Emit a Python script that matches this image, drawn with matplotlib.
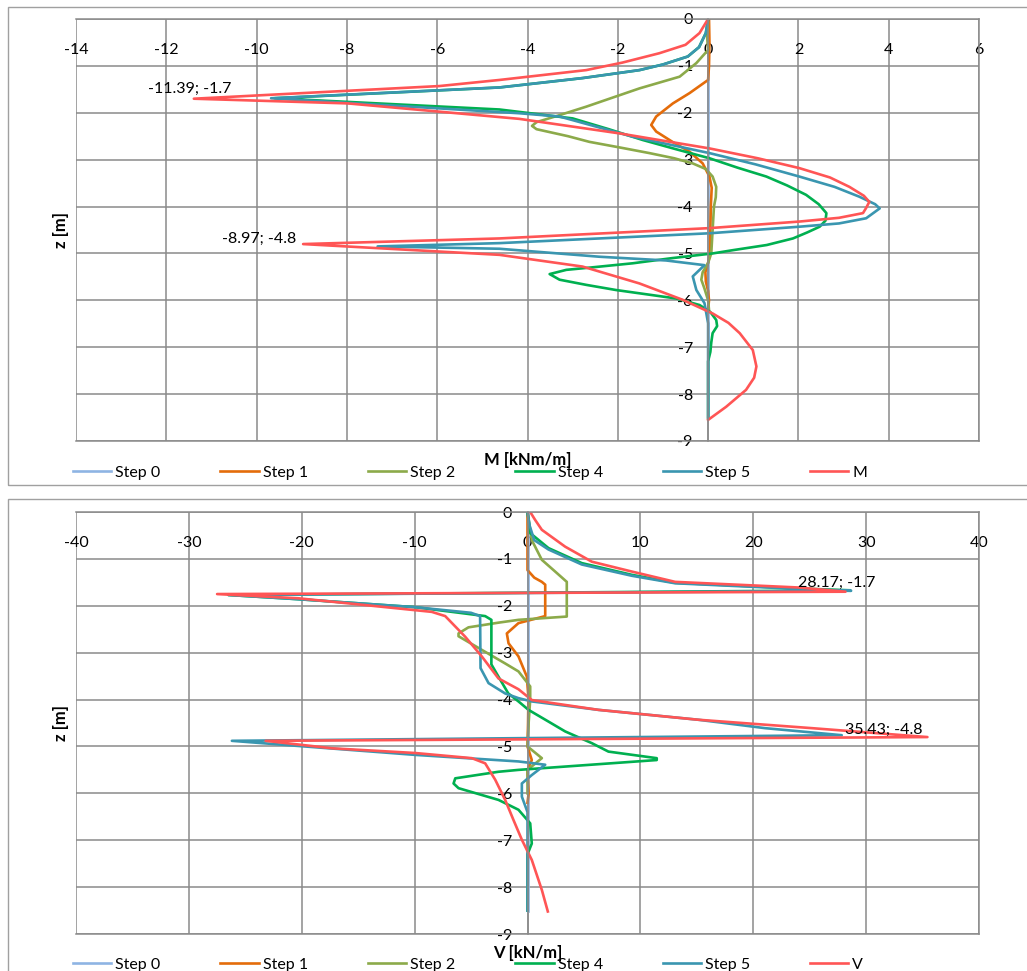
import matplotlib
matplotlib.use("Agg")
import matplotlib.pyplot as plt
from matplotlib.patches import Rectangle

plt.rcParams['font.family'] = ['Lato', 'DejaVu Sans']
plt.rcParams['axes.unicode_minus'] = False

# bending moment M [kNm/m] vs depth z [m]
m_step0_x = [0.0, 0.0]
m_step0_z = [0.0, -8.5]

m_step1_x = [0.02, 0.03, 0.02, 0.0, -0.41, -0.78, -1.15, -1.26, -1.15, -0.79, -0.41, -0.12,
             0.03, 0.08, 0.06, 0.05, 0.04, 0.0, -0.06, -0.05, 0.0, 0.02, 0.0]
m_step1_z = [0.0, -0.5, -1.0, -1.3, -1.58, -1.80, -2.08, -2.26, -2.40, -2.62, -2.83, -3.08,
             -3.36, -3.6, -4.0, -4.5, -5.0, -5.2, -5.4, -5.6, -5.8, -6.0, -6.2]

m_step2_x = [0.0, -0.02, 0.0, -0.26, -0.63, -1.52, -2.70, -3.29, -3.80, -3.90, -3.80, -3.10,
             -2.63, -1.90, -1.30, -0.75, -0.34, -0.05, 0.10, 0.18, 0.17, 0.13, 0.10, 0.07,
             0.0, -0.12, -0.15, -0.08, 0.0, 0.02]
m_step2_z = [0.0, -0.4, -0.66, -0.94, -1.23, -1.48, -1.87, -2.05, -2.20, -2.28, -2.35, -2.50,
             -2.62, -2.75, -2.86, -2.97, -3.08, -3.20, -3.36, -3.58, -3.80, -4.0, -4.5, -5.0,
             -5.2, -5.4, -5.56, -5.75, -6.0, -6.2]

m_step4_x = [0.0, -0.05, -0.2, -0.45, -1.0, -1.52, -2.78, -4.62, -9.60, -4.62, -3.0, -2.2,
             -1.45, -0.7, 0.03, 0.65, 1.29, 1.75, 2.17, 2.45, 2.62, 2.60, 2.47, 2.20, 1.88,
             1.30, 0.55, 0.10, -0.80, -1.67, -2.60, -3.14, -3.51, -3.29, -2.70, -2.04, -1.30,
             -0.71, -0.19, 0.05, 0.18, 0.20, 0.10, 0.07, 0.05, 0.0, 0.0]
m_step4_z = [0.0, -0.3, -0.6, -0.8, -0.97, -1.09, -1.26, -1.46, -1.69, -1.93, -2.12, -2.35,
             -2.58, -2.78, -2.97, -3.17, -3.36, -3.55, -3.75, -3.95, -4.14, -4.30, -4.43, -4.55,
             -4.68, -4.82, -4.93, -5.0, -5.10, -5.21, -5.30, -5.35, -5.44, -5.56, -5.67, -5.78,
             -5.88, -5.96, -6.10, -6.25, -6.42, -6.55, -6.70, -6.9, -7.1, -7.3, -8.5]

m_step5_x = [0.0, -0.05, -0.2, -0.45, -1.0, -1.52, -2.78, -4.62, -9.68, -4.18, -3.29, -1.67,
             0.03, 1.05, 2.02, 2.80, 3.35, 3.70, 3.80, 3.50, 2.90, 2.02, 0.03, -4.62, -7.32,
             -4.62, -2.41, -0.93, -0.08, -0.34, -0.26, -0.08, 0.0, 0.0]
m_step5_z = [0.0, -0.3, -0.6, -0.8, -0.97, -1.09, -1.26, -1.46, -1.69, -2.01, -2.08, -2.51,
             -2.86, -3.10, -3.36, -3.58, -3.79, -3.95, -4.04, -4.25, -4.36, -4.43, -4.57, -4.78,
             -4.85, -4.90, -5.07, -5.15, -5.25, -5.49, -5.78, -6.06, -6.49, -8.5]

m_x = [0.0, -0.19, -0.5, -1.08, -1.9, -2.70, -4.62, -5.95, -11.39, -7.98, -4.18, -1.96,
       0.03, 1.10, 2.02, 2.70, 3.13, 3.45, 3.57, 3.50, 3.43, 2.90, 2.02, 0.03, -4.62, -8.97,
       -4.62, -2.78, -1.52, -0.56, 0.10, 0.45, 0.70, 0.99, 1.07, 1.02, 0.84, 0.40, 0.0]
m_z = [0.0, -0.3, -0.55, -0.73, -0.93, -1.09, -1.30, -1.43, -1.7, -1.80, -2.13, -2.44,
       -2.76, -2.97, -3.18, -3.38, -3.58, -3.77, -3.90, -4.03, -4.14, -4.24, -4.32, -4.46,
       -4.68, -4.8, -5.03, -5.28, -5.64, -5.99, -6.28, -6.48, -6.70, -7.06, -7.41, -7.65,
       -7.91, -8.27, -8.55]

# shear force V [kN/m] vs depth z [m]
v_step0_x = [0.0, 0.0]
v_step0_z = [0.0, -8.5]

v_step1_x = [0.0, 0.0, 0.0, 0.6, 1.27, 1.57, 1.57, -0.8, -1.83, -1.68, -0.80, -0.06, 0.08,
             0.05, 0.0, 0.38, 0.0, 0.1, 0.0]
v_step1_z = [0.0, -0.5, -1.24, -1.40, -1.49, -1.55, -2.22, -2.37, -2.59, -2.80, -3.08, -3.51,
             -3.95, -4.5, -5.0, -5.29, -5.5, -6.0, -6.2]

v_step2_x = [0.0, 0.38, 1.27, 2.45, 3.48, 3.48, -0.8, -2.57, -5.23, -6.11, -6.11, -4.05,
             -1.98, -0.8, 0.24, 0.24, 0.1, 0.0, 1.27, 0.0, 0.0]
v_step2_z = [0.0, -0.6, -1.02, -1.27, -1.49, -2.23, -2.30, -2.36, -2.46, -2.59, -2.65, -2.94,
             -3.23, -3.40, -3.72, -4.0, -4.5, -5.0, -5.25, -5.5, -6.0]

v_step4_x = [0.0, 0.24, 1.86, 4.81, 9.24, 13.08, 24.0, 28.6, -26.5, -20.3, -9.95, -3.75,
             -3.2, -3.2, -2.6, -1.7, -0.8, 0.09, 1.86, 3.34, 5.70, 7.17, 11.45, 11.45, -0.8,
             -2.57, -6.40, -6.55, -6.11, -2.57, -0.8, 0.24, 0.38, 0.0, 0.0]
v_step4_z = [0.0, -0.45, -0.77, -1.09, -1.34, -1.51, -1.63, -1.67, -1.77, -1.86, -2.03, -2.22,
             -2.30, -3.25, -3.50, -3.87, -4.04, -4.22, -4.47, -4.68, -4.93, -5.11, -5.25, -5.29,
             -5.50, -5.54, -5.68, -5.79, -5.89, -6.14, -6.35, -6.64, -7.07, -7.3, -8.5]

v_step5_x = [0.0, 0.2, 0.6, 1.86, 4.81, 9.24, 13.08, 24.0, 28.67, -26.5, -20.3, -9.95, -5.0,
             -4.2, -4.16, -3.45, -1.98, -0.8, 0.38, 6.29, 15.1, 21.05, 27.84, -26.19, -20.3,
             -9.95, -0.8, 1.57, 0.38, -0.5, -0.5, 0.0, 0.0]
v_step5_z = [0.0, -0.3, -0.6, -0.80, -1.12, -1.36, -1.52, -1.64, -1.68, -1.77, -1.86, -2.03,
             -2.15, -2.22, -3.33, -3.65, -3.87, -3.97, -4.04, -4.22, -4.43, -4.61, -4.76, -4.88,
             -4.99, -5.18, -5.32, -5.39, -5.61, -5.79, -6.07, -6.4, -8.5]

v_x = [0.24, 0.68, 1.27, 3.34, 5.70, 9.24, 13.08, 24.0, 28.17, -27.5, -20.3, -8.48, -7.29,
       -5.52, -4.05, -2.57, -0.8, 0.38, 6.29, 15.1, 25.2, 35.43, -23.2, -17.3, -9.95, -4.93,
       -3.75, -2.86, -1.98, -1.24, -0.5, 0.38, 1.27, 1.8]
v_z = [0.0, -0.17, -0.38, -0.74, -1.06, -1.27, -1.49, -1.61, -1.7, -1.75, -1.84, -2.13, -2.22,
       -2.66, -3.08, -3.55, -3.78, -4.01, -4.22, -4.43, -4.61, -4.8, -4.88, -5.04, -5.14, -5.25,
       -5.36, -5.71, -6.14, -6.57, -6.99, -7.42, -8.06, -8.52]

step_labels = ['Step 0', 'Step 1', 'Step 2', 'Step 4', 'Step 5']
colors = ['#8EB4E3', '#E46C0A', '#8CAA4A', '#00B050', '#3A96B0', '#FF5555']
grid_col = '#8A8A8A'

W, H = 1027, 971
fig = plt.figure(figsize=(W / 100, H / 100), dpi=100)

# panel frames
fig.add_artist(Rectangle((8 / W, 1 - 485 / H), 1.1, 478 / H, transform=fig.transFigure,
                         fill=False, edgecolor='#A0A0A0', lw=1))
fig.add_artist(Rectangle((8 / W, -0.1), 1.1, 0.1 + 1 - 499 / H, transform=fig.transFigure,
                         fill=False, edgecolor='#A0A0A0', lw=1))


def setup(ax, xlim, xstep, xlabel):
    ax.set_xlim(*xlim)
    ax.set_ylim(-9, 0)
    ax.set_xticks(range(xlim[0], xlim[1] + 1, xstep))
    ax.set_yticks(range(-9, 1))
    ax.set_axisbelow(True)
    ax.grid(True, color=grid_col, lw=1.1)
    for s in ax.spines.values():
        s.set_color(grid_col)
        s.set_linewidth(1.1)
    ax.spines['left'].set_position(('data', 0))
    ax.xaxis.set_ticks_position('top')
    ax.tick_params(axis='x', length=0, pad=-27, labeltop=True, labelbottom=False,
                   labelsize=11.5, colors='black')
    ax.tick_params(axis='y', length=0, pad=11, labelsize=11.5, colors='black')
    ax.xaxis.set_label_position('bottom')
    ax.set_xlabel(xlabel, fontsize=12, fontweight='bold', labelpad=8)
    ax.set_ylabel('z [m]', fontsize=12, fontweight='bold')
    ax.yaxis.set_label_coords(-0.008, 0.5)


ax1 = fig.add_axes([76 / W, 1 - 441 / H, 903 / W, 422 / H])
ax2 = fig.add_axes([76 / W, 1 - 934 / H, 903 / W, 422 / H])

lw = 1.9
series_m = [(m_step0_x, m_step0_z), (m_step1_x, m_step1_z), (m_step2_x, m_step2_z),
            (m_step4_x, m_step4_z), (m_step5_x, m_step5_z), (m_x, m_z)]
series_v = [(v_step0_x, v_step0_z), (v_step1_x, v_step1_z), (v_step2_x, v_step2_z),
            (v_step4_x, v_step4_z), (v_step5_x, v_step5_z), (v_x, v_z)]

for ax, series, last, xlim, xstep, xlabel, ly in [
        (ax1, series_m, 'M', (-14, 6), 2, 'M [kNm/m]', 473),
        (ax2, series_v, 'V', (-40, 40), 10, 'V [kN/m]', 965)]:
    setup(ax, xlim, xstep, xlabel)
    handles = []
    for (x, z), c in zip(series, colors):
        h, = ax.plot(x, z, color=c, lw=lw, solid_joinstyle='round')
        handles.append(h)
    fig.legend(handles, step_labels + [last], loc='center left',
               bbox_to_anchor=(73 / W, 1 - ly / H), ncol=6, frameon=False,
               handlelength=2.4, handletextpad=0.25, columnspacing=3.75,
               borderpad=0, borderaxespad=0, fontsize=11.5)

# peak labels
ax1.annotate('-11.39; -1.7', xy=(-11.39, -1.7), xytext=(-3, 7), textcoords='offset points',
             ha='center', va='center', fontsize=11.5)
ax1.annotate('-8.97; -4.8', xy=(-8.97, -4.8), xytext=(-5, 3.5), textcoords='offset points',
             ha='right', va='center', fontsize=11.5)
ax2.annotate('28.17; -1.7', xy=(28.17, -1.7), xytext=(-6, 6), textcoords='offset points',
             ha='center', va='center', fontsize=11.5)
ax2.annotate('35.43; -4.8', xy=(35.43, -4.8), xytext=(-3.5, 5), textcoords='offset points',
             ha='right', va='center', fontsize=11.5)

fig.savefig('out.png', dpi=100)
